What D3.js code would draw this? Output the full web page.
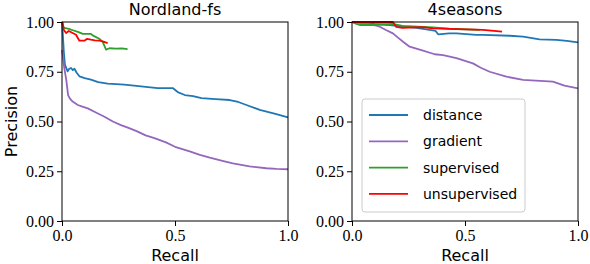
<!DOCTYPE html>
<html>
<head>
<meta charset="utf-8">
<script src="https://cdn.jsdelivr.net/npm/d3@7"></script>
<style>
body{margin:0;background:#fff;}
svg{display:block;}
</style>
</head>
<body>
<svg id="svg" width="590" height="264"></svg>
<script>
// series names and colours (legend order)
var seriesNames=["distance","gradient","supervised","unsupervised"];
var seriesColors=["#1f77b4","#9467bd","#2ca02c","#ff0000"];
var panelTitles=["Nordland-fs","4seasons"];
var yTicks=[0,0.25,0.5,0.75,1.0];
var xTicks=[0,0.5,1.0];

// [recall, precision]
var nordlandDistance=[[0,1.0],[0.003,0.95],[0.008,0.85],[0.013,0.785],[0.025,0.752],[0.032,0.765],[0.04,0.769],[0.048,0.758],[0.055,0.765],[0.065,0.745],[0.077,0.727],[0.1,0.718],[0.128,0.71],[0.16,0.698],[0.202,0.69],[0.24,0.688],[0.276,0.685],[0.35,0.677],[0.423,0.668],[0.49,0.668],[0.512,0.648],[0.543,0.633],[0.58,0.628],[0.617,0.617],[0.68,0.612],[0.742,0.608],[0.78,0.598],[0.816,0.583],[0.875,0.558],[0.94,0.54],[1.0,0.521]];
var nordlandGradient=[[0,0.86],[0.004,0.826],[0.01,0.77],[0.019,0.708],[0.027,0.633],[0.035,0.615],[0.047,0.6],[0.07,0.583],[0.09,0.575],[0.114,0.566],[0.15,0.545],[0.188,0.524],[0.225,0.5],[0.261,0.482],[0.3,0.465],[0.335,0.449],[0.37,0.43],[0.409,0.416],[0.46,0.395],[0.5,0.373],[0.565,0.35],[0.61,0.332],[0.654,0.318],[0.71,0.302],[0.756,0.29],[0.83,0.275],[0.904,0.265],[0.95,0.262],[1.0,0.26]];
var nordlandSupervised=[[0,1.0],[0.004,0.98],[0.01,0.97],[0.03,0.965],[0.055,0.956],[0.07,0.95],[0.092,0.94],[0.128,0.94],[0.14,0.93],[0.165,0.916],[0.18,0.9],[0.195,0.861],[0.21,0.868],[0.239,0.866],[0.265,0.867],[0.29,0.864]];
var nordlandUnsupervised=[[0,1.0],[0.003,0.995],[0.008,0.96],[0.018,0.945],[0.03,0.955],[0.047,0.945],[0.062,0.936],[0.077,0.906],[0.099,0.906],[0.11,0.915],[0.128,0.911],[0.145,0.908],[0.165,0.906],[0.18,0.903],[0.202,0.894]];

var seasonsDistance=[[0,1.0],[0.05,0.995],[0.1,0.99],[0.167,0.985],[0.22,0.978],[0.285,0.971],[0.344,0.96],[0.37,0.955],[0.381,0.938],[0.43,0.943],[0.462,0.943],[0.55,0.935],[0.58,0.935],[0.698,0.931],[0.757,0.926],[0.83,0.913],[0.904,0.91],[0.95,0.905],[1.0,0.898]];
var seasonsGradient=[[0,1.0],[0.05,0.995],[0.078,0.988],[0.108,0.982],[0.123,0.976],[0.15,0.96],[0.181,0.943],[0.205,0.92],[0.226,0.901],[0.255,0.876],[0.307,0.859],[0.366,0.838],[0.403,0.834],[0.462,0.818],[0.535,0.792],[0.57,0.77],[0.609,0.75],[0.683,0.725],[0.757,0.709],[0.889,0.7],[0.94,0.68],[1.0,0.667]];
var seasonsSupervised=[[0,1.0],[0.02,0.99],[0.034,0.985],[0.08,0.985],[0.18,0.99],[0.223,0.98],[0.358,0.973],[0.43,0.966],[0.565,0.96]];
var seasonsUnsupervised=[[0,1.0],[0.181,1.0],[0.196,0.975],[0.223,0.971],[0.314,0.974],[0.358,0.968],[0.506,0.963],[0.58,0.96],[0.664,0.952]];

var panelData=[
    [nordlandDistance,nordlandGradient,nordlandSupervised,nordlandUnsupervised],
    [seasonsDistance,seasonsGradient,seasonsSupervised,seasonsUnsupervised]
];

var svg=d3.select("#svg");
var panelLeft=[62,352];
var plotTop=22, plotW=226, plotH=199;

var yScale=d3.scaleLinear().domain([0,1]).range([plotH,0]);
var xScale=d3.scaleLinear().domain([0,1]).range([0,plotW]);

var line=d3.line()
    .x(function(d){return xScale(d[0]);})
    .y(function(d){return yScale(d[1]);});

function styleTicks(axis){
    axis.attr("font-family","Liberation Serif").attr("font-size",16);
    axis.select(".domain").remove();
    axis.selectAll(".tick line").attr("stroke","#000");
    axis.selectAll(".tick text")
        .attr("fill","#000")
        .attr("font-family","Liberation Serif")
        .style("font-size","16px");
}

panelTitles.forEach(function(title,p){
    var g=svg.append("g")
        .attr("transform","translate("+panelLeft[p]+","+plotTop+")");

    g.append("clipPath").attr("id","clip"+p)
        .append("rect").attr("x",-1).attr("y",-1).attr("width",plotW+2).attr("height",plotH+2);

    var lines=g.append("g").attr("clip-path","url(#clip"+p+")");
    panelData[p].forEach(function(s,i){
        lines.append("path")
            .datum(s)
            .attr("d",line)
            .attr("fill","none")
            .attr("stroke",seriesColors[i])
            .attr("stroke-width",1.8)
            .attr("stroke-linejoin","round");
    });

    var yAxis=g.append("g")
        .call(d3.axisLeft(yScale).tickValues(yTicks).tickSize(5).tickPadding(3).tickFormat(d3.format(".2f")));
    styleTicks(yAxis);

    var xAxis=g.append("g")
        .attr("transform","translate(0,"+plotH+")")
        .call(d3.axisBottom(xScale).tickValues(xTicks).tickSize(5).tickPadding(4).tickFormat(d3.format(".1f")));
    styleTicks(xAxis);

    // frame
    g.append("rect")
        .attr("width",plotW).attr("height",plotH)
        .attr("fill","none").attr("stroke","#000").attr("stroke-width",1);

    g.append("text")
        .attr("x",plotW/2).attr("y",-7)
        .attr("text-anchor","middle")
        .style("font-family","DejaVu Sans")
        .style("font-size","16px")
        .text(title);

    g.append("text")
        .attr("x",plotW/2).attr("y",plotH+40)
        .attr("text-anchor","middle")
        .style("font-family","DejaVu Sans")
        .style("font-size","16px")
        .text("Recall");
});

svg.append("text")
    .attr("transform","translate(16.5,"+(plotTop+plotH/2)+") rotate(-90)")
    .attr("text-anchor","middle")
    .style("font-family","DejaVu Sans")
    .style("font-size","16px")
    .text("Precision");

// legend in the right panel
var legend=svg.append("g").attr("transform","translate(362,99)");
legend.append("rect")
    .attr("width",163).attr("height",113)
    .attr("rx",3)
    .attr("fill","#fff").attr("fill-opacity",0.8)
    .attr("stroke","#ccc");
seriesNames.forEach(function(name,i){
    var y=16+i*26.3;
    legend.append("line")
        .attr("x1",7).attr("x2",46)
        .attr("y1",y).attr("y2",y)
        .attr("stroke",seriesColors[i]).attr("stroke-width",1.8);
    legend.append("text")
        .attr("x",61).attr("y",y).attr("dy","0.35em")
        .style("font-family","DejaVu Sans")
        .style("font-size","14px")
        .text(name);
});
</script>
</body>
</html>
